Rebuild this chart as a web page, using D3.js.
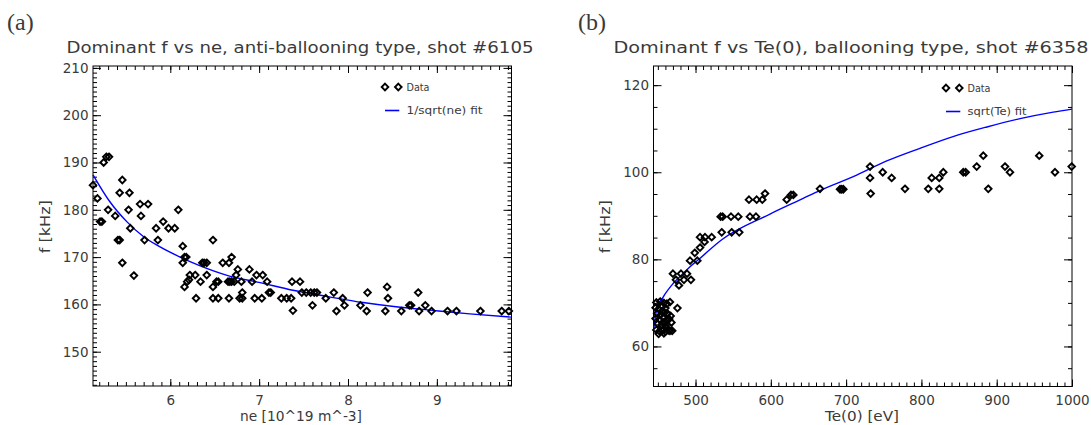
<!DOCTYPE html>
<html><head><meta charset="utf-8">
<script src="https://cdn.jsdelivr.net/npm/d3@7"></script>
<style>
body{margin:0;background:#fff}
svg{display:block;background:#fff}
text{font-family:"DejaVu Sans",sans-serif;fill:#3a3a3a}
</style>
</head><body>
<svg id="c" width="1091" height="425"></svg>
<script>
// ---------- Panel (a) data ----------
const neX = [5.13,5.18,5.21,5.23,5.25,5.28,5.31,5.30,5.38,5.41,5.43,5.43,5.46,5.46,5.53,5.54,5.55,5.59,5.66,5.67,5.71,5.75,5.84,5.86,5.92,5.98,6.05,6.09,6.14,6.14,6.16,6.18,6.16,6.19,6.21,6.22,6.28,6.29,6.34,6.36,6.38,6.41,6.41,6.48,6.48,6.48,6.52,6.54,6.54,6.59,6.66,6.66,6.65,6.67,6.69,6.72,6.69,6.74,6.76,6.78,6.81,6.80,6.81,6.89,6.92,6.95,6.97,7.03,7.04,7.09,7.11,7.13,7.25,7.31,7.36,7.38,7.37,7.46,7.48,7.53,7.58,7.62,7.65,7.60,7.75,7.84,7.87,7.94,7.96,8.14,8.21,8.22,8.42,8.44,8.45,8.60,8.69,8.71,8.79,8.80,8.87,8.94,9.12,9.22,9.49,9.73,9.81];
const neF = [185.2,182.4,177.5,177.5,190.0,191.2,191.2,180.0,178.7,173.6,173.6,183.6,186.3,168.8,180.0,183.6,176.1,166.1,181.2,178.7,173.6,181.2,176.1,173.6,177.5,176.1,176.1,180.0,172.3,168.8,170.0,170.0,163.7,164.8,165.2,166.2,166.2,161.3,164.8,168.8,168.8,168.8,166.2,173.6,163.7,161.3,164.8,164.8,161.3,168.8,161.3,168.8,164.8,164.8,164.8,164.8,170.0,166.2,167.4,161.3,161.3,164.8,162.5,167.4,164.8,161.3,166.2,161.3,166.2,164.8,162.5,162.5,161.3,161.3,161.3,158.7,164.8,164.8,162.5,162.5,162.5,162.5,162.5,159.8,161.3,162.5,158.6,161.3,159.8,159.8,158.6,162.5,158.6,163.7,161.3,158.6,159.8,159.8,162.5,158.6,159.8,158.6,158.6,158.6,158.6,158.6,158.6];
const fitAX = [5.13,5.32,5.51,5.70,5.88,6.11,6.33,6.63,7.01,7.38,7.79,8.17,8.54,8.92,9.37,9.84];
const fitAF = [187.4,181.7,177.5,174.3,172.2,170.0,168.2,166.2,164.6,163.0,161.6,160.4,159.5,158.8,158.0,157.3];
const xTicksA = [6,7,8,9];
const yTicksA = [150,160,170,180,190,200,210];

// ---------- Panel (b) data ----------
const teX = [665.3,592.3,571.0,581.2,588.7,621.1,626.8,629.9,533.4,536.1,547.1,556.8,572.3,580.3,534.8,548.0,558.1,506.0,512.6,521.5,
  691.9,694.1,696.3,731.8,731.8,732.6,748.6,760.5,778.2,809.1,813.7,823.7,823.7,829.1,855.6,858.8,873.4,882.2,888.8,911.0,917.6,956.5,977.4,999.6,
  492.7,502.4,499,506,512,470,480.7,488.7,474,484.6,493.9,478,
  448,453,458,462,466,447,451,456,460,476,449,454,459,463,467,447,452,457,461,465,450,455,460,468,448,452,456,460,464,469,466,455,458,462,451,458];
const teF = [96.2,95.1,93.7,93.7,93.7,93.7,94.8,94.8,89.8,89.8,89.8,89.8,89.8,89.8,86.2,86.2,86.2,85.1,85.1,85.1,
  96.1,96.1,96.1,101.3,98.7,95.1,100.0,98.7,96.2,96.2,98.7,98.7,96.2,100.0,100.0,100.0,101.3,103.8,96.2,101.3,100.0,103.8,100.0,101.3,
  79.7,79.7,81.5,82.7,84.0,76.7,76.7,76.7,75.3,75.3,75.3,74.0,
  70.1,70.3,70.0,69.8,70.2,68.9,68.6,69.2,68.8,68.8,67.6,67.3,67.8,67.5,67.0,66.4,66.2,66.6,66.0,66.3,65.2,65.0,64.8,65.5,63.8,63.5,63.6,63.4,63.7,63.6,63.6,68.0,65.5,64.2,62.9,63.0];
const fitBX = [444.5,448.4,457.2,470.5,483.8,492.7,503.7,534.8,598.9,643.0,665.0,709.5,754.0,798.0,842.0,887.0,931.0,975.0,1000.0];
const fitBF = [64.0,68.4,71.4,74.5,76.8,78.3,79.9,84.5,90.4,94.0,95.8,99.0,102.6,105.5,108.2,110.4,112.3,113.8,114.5];
const xTicksB = [500,600,700,800,900,1000];
const yTicksB = [60,80,100,120];

const svg = d3.select('#c');

function diamond(r){return `M0,${-r}L${r},0L0,${r}L${-r},0Z`;}

function panel(o){
  const g = svg.append('g');
  const x = d3.scaleLinear().domain(o.xd).range([o.l,o.r]);
  const y = d3.scaleLinear().domain(o.yd).range([o.b,o.t]);
  const fmt = d3.format('d');
  const style = sel => {
    sel.select('.domain').remove();
    sel.selectAll('line').attr('stroke','#000').attr('stroke-width',1);
    sel.selectAll('text').attr('font-size',13.5).attr('fill','#3a3a3a').attr('font-family','DejaVu Sans, sans-serif');
  };
  g.append('g').attr('transform',`translate(0,${o.b})`).call(d3.axisBottom(x).tickValues(o.xMin).tickSize(-4).tickSizeOuter(0).tickFormat('')).call(style);
  g.append('g').attr('transform',`translate(0,${o.t})`).call(d3.axisTop(x).tickValues(o.xMin).tickSize(-4).tickSizeOuter(0).tickFormat('')).call(style);
  g.append('g').attr('transform',`translate(${o.l},0)`).call(d3.axisLeft(y).tickValues(o.yMin).tickSize(-4).tickSizeOuter(0).tickFormat('')).call(style);
  g.append('g').attr('transform',`translate(${o.r},0)`).call(d3.axisRight(y).tickValues(o.yMin).tickSize(-4).tickSizeOuter(0).tickFormat('')).call(style);
  g.append('g').attr('transform',`translate(0,${o.b})`).call(d3.axisBottom(x).tickValues(o.xMaj).tickSize(-7).tickSizeOuter(0).tickPadding(9).tickFormat(fmt)).call(style);
  g.append('g').attr('transform',`translate(0,${o.t})`).call(d3.axisTop(x).tickValues(o.xMaj).tickSize(-7).tickSizeOuter(0).tickFormat('')).call(style);
  g.append('g').attr('transform',`translate(${o.l},0)`).call(d3.axisLeft(y).tickValues(o.yMaj).tickSize(-8).tickSizeOuter(0).tickPadding(4.5).tickFormat(fmt)).call(style);
  g.append('g').attr('transform',`translate(${o.r},0)`).call(d3.axisRight(y).tickValues(o.yMaj).tickSize(-8).tickSizeOuter(0).tickFormat('')).call(style);
  g.append('rect').attr('x',o.l).attr('y',o.t).attr('width',o.r-o.l).attr('height',o.b-o.t)
    .attr('fill','none').attr('stroke','#000').attr('stroke-width',1);
  const line = d3.line().x(d=>x(d[0])).y(d=>y(d[1])).curve(d3.curveMonotoneX);
  g.append('path').datum(o.fx.map((v,i)=>[v,o.ff[i]])).attr('d',line)
    .attr('fill','none').attr('stroke','#0000ff').attr('stroke-width',1.4);
  g.append('g').selectAll('path').data(o.px.map((v,i)=>[v,o.pf[i]])).join('path')
    .attr('d',diamond(3.3)).attr('transform',d=>`translate(${x(d[0])},${y(d[1])})`)
    .attr('fill','none').attr('stroke','#000').attr('stroke-width',1.9);
  g.append('text').attr('x',o.tx).attr('y',53).attr('text-anchor','middle').attr('font-size',16.5)
    .attr('textLength',o.tw).attr('lengthAdjust','spacingAndGlyphs').text(o.title);
  g.append('text').attr('x',o.xlx).attr('y',421).attr('text-anchor','middle').attr('font-size',14)
    .attr('textLength',o.xlw).attr('lengthAdjust','spacingAndGlyphs').text(o.xlabel);
  g.append('text').attr('transform',`translate(${o.ylx},226.7) rotate(-90)`).attr('text-anchor','middle')
    .attr('dy','0.35em').attr('font-size',14).attr('textLength',53).attr('lengthAdjust','spacingAndGlyphs').text('f [kHz]');
  g.append('text').attr('x',o.lab[0]).attr('y',30)
    .attr('font-size',24).attr('fill','#000').style('font-family','"Liberation Serif", "DejaVu Serif", serif').text(o.lab[1]);
  const lg = g.append('g');
  lg.append('path').attr('d',diamond(3.3)).attr('transform',`translate(${o.lgx},${o.lgy})`).attr('fill','none').attr('stroke','#000').attr('stroke-width',1.9);
  lg.append('path').attr('d',diamond(3.3)).attr('transform',`translate(${o.lgx+13.3},${o.lgy})`).attr('fill','none').attr('stroke','#000').attr('stroke-width',1.9);
  lg.append('text').attr('x',o.lgx+21.5).attr('y',o.lgy).attr('dy','0.35em').attr('font-size',11)
    .attr('textLength',23).attr('lengthAdjust','spacingAndGlyphs').text('Data');
  lg.append('line').attr('x1',o.lgx).attr('x2',o.lgx+14.3).attr('y1',o.lgy+23.5).attr('y2',o.lgy+23.5)
    .attr('stroke','#0000ff').attr('stroke-width',1.6);
  lg.append('text').attr('x',o.lgx+21.5).attr('y',o.lgy+23.5).attr('dy','0.35em').attr('font-size',11)
    .attr('textLength',o.fitw).attr('lengthAdjust','spacingAndGlyphs').text(o.fitLabel);
}

const rng = (a,b,s)=>d3.range(Math.round(a/s),Math.round(b/s)+1).map(k=>+(k*s).toFixed(4));

panel({l:93,r:511.5,t:66,b:386,xd:[5.13,9.84],yd:[142.75,210.4],
  xMaj:xTicksA,yMaj:yTicksA,xMin:rng(5.2,9.8,0.1),yMin:rng(143,210,1),
  px:neX,pf:neF,fx:fitAX,ff:fitAF,
  title:'Dominant f vs ne, anti-ballooning type, shot #6105',tx:300,tw:467,
  xlabel:'ne [10^19 m^-3]',xlx:301,xlw:122,ylx:45,lab:[7,'(a)'],
  lgx:385,lgy:87,fitLabel:'1/sqrt(ne) fit',fitw:76});

panel({l:653.5,r:1072,t:66,b:386.5,xd:[444.2,1000],yd:[50.8,124.4],
  xMaj:xTicksB,yMaj:yTicksB,xMin:rng(450,1000,10),yMin:rng(55,120,5),
  px:teX,pf:teF,fx:fitBX,ff:fitBF,
  title:'Dominant f vs Te(0), ballooning type, shot #6358',tx:851,tw:475,
  xlabel:'Te(0) [eV]',xlx:862,xlw:74,ylx:605,lab:[578,'(b)'],
  lgx:946,lgy:88,fitLabel:'sqrt(Te) fit',fitw:59});
</script>
</body></html>
